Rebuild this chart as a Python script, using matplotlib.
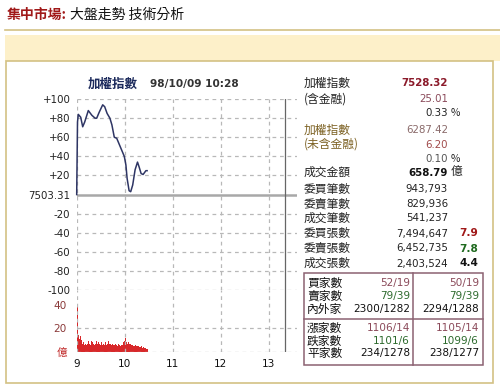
import matplotlib
matplotlib.use("Agg")
import matplotlib.pyplot as plt
from matplotlib.patches import Rectangle
from matplotlib.lines import Line2D

plt.rcParams['font.family'] = ['DejaVu Sans', 'Noto Sans CJK TC']

# ---------------- data ----------------
base_index = 7503.31
price_minutes = [0, 1, 2, 5, 7.5, 10, 14.5, 19, 23, 25, 28, 32.5, 35, 38, 41.5, 44, 47, 50,
                 53, 56, 59.5, 61.5, 63, 65.5, 67.5, 70, 73, 76, 78, 80.5, 83, 86.5, 88]
price_change = [0, 76, 84, 81, 71, 76, 88, 83, 80, 80, 86, 94, 92, 85, 80, 73, 60, 59,
                53, 47, 40, 31, 17, 4, 3, 10, 26, 34, 29, 22, 21, 25, 25.01]
volume = [38, 13, 14, 11, 13, 10, 8, 7, 8, 6, 7, 8, 6, 7, 9, 7, 8, 6, 9, 8, 7, 8, 6, 7, 9,
          7, 6, 8, 7, 6, 8, 7, 6, 7, 6, 8, 7, 6, 7, 9, 7, 6, 7, 6, 7, 6, 5, 6, 7, 6, 5, 6,
          7, 6, 5, 6, 7, 6, 8, 9, 12, 9, 8, 7, 8, 7, 6, 7, 6, 6, 5, 6, 5, 6, 5, 5, 4, 5, 4,
          4, 5, 4, 3, 4, 3, 3, 3, 2, 2]
hour_ticks = [0, 60, 120, 180, 240]
hour_labels = ['9', '10', '11', '12', '13']
price_ticks = [100, 80, 60, 40, 20, 0, -20, -40, -60, -80, -100]
price_tick_labels = ['+100', '+80', '+60', '+40', '+20', '7503.31', '-20', '-40', '-60', '-80', '-100']
vol_ticks = [0, 20, 40]
vol_tick_labels = ['億', '20', '40']
chart_title = '加權指數'
chart_time = '98/10/09 10:28'

idx_labels = ['加權指數', '(含金融)', '', '加權指數', '(未含金融)', '', '成交金額',
              '委買筆數', '委賣筆數', '成交筆數', '委買張數', '委賣張數', '成交張數']
idx_values = ['7528.32', '25.01', '0.33', '6287.42', '6.20', '0.10', '658.79',
              '943,793', '829,936', '541,237', '7,494,647', '6,452,735', '2,403,524']
idx_units = ['', '', '%', '', '', '%', '億', '', '', '', '', '', '']
ratio_values = ['', '', '', '', '', '', '', '', '', '', '7.9', '7.8', '4.4']

box_labels = ['買家數', '賣家數', '內外家', '漲家數', '跌家數', '平家數']
box_col1 = ['52/19', '79/39', '2300/1282', '1106/14', '1101/6', '234/1278']
box_col2 = ['50/19', '79/39', '2294/1288', '1105/14', '1099/6', '238/1277']

# ---------------- figure ----------------
W, H = 500, 386
fig = plt.figure(figsize=(W / 100, H / 100), dpi=100)
fig.patch.set_facecolor('white')


def rect(x0, y0, x1, y1):
    return [x0 / W, 1 - y1 / H, (x1 - x0) / W, (y1 - y0) / H]


# overlay for page decorations & text (pixel coordinates)
ov = fig.add_axes([0, 0, 1, 1])
ov.set_xlim(0, W)
ov.set_ylim(H, 0)
ov.axis('off')
ov.set_zorder(0)

tan = '#d3c184'
ov.add_line(Line2D([5, 500], [29.5, 29.5], color=tan, lw=1.2))
ov.add_patch(Rectangle((5, 35), 495, 26, facecolor='#fdf0c9', edgecolor='none'))
ov.add_patch(Rectangle((6, 61), 487, 322, facecolor='white', edgecolor=tan, lw=1.2))

ov.text(7, 15, '集中市場:', color='#a01818', fontsize=10, fontweight='bold',
        va='center', ha='left', family=['Noto Sans CJK TC'])
ov.text(70, 15, '大盤走勢 技術分析', color='#111111', fontsize=10,
        va='center', ha='left', family=['Noto Sans CJK TC'])

# chart title
ov.text(88, 84, chart_title, color='#1c2a5c', fontsize=9, fontweight='bold',
        va='center', ha='left', family=['Noto Sans CJK TC'])
ov.text(150, 84, chart_time, color='#333333', fontsize=7.6, fontweight='bold',
        va='center', ha='left')

# ---------------- price axes ----------------
x_left, x_right = 76.7, 296.7
xmin, xmax = 0, 275
axp = fig.add_axes(rect(x_left, 99.1, x_right, 290))
axp.set_xlim(xmin, xmax)
axp.set_ylim(-100, 100)
for s in axp.spines.values():
    s.set_visible(False)
axp.patch.set_alpha(0)
grid_kw = dict(color='#b8b8b8', lw=0.9, ls=(0, (3, 3)))
for v in price_ticks:
    if v != 0:
        axp.axhline(v, **grid_kw)
for h in hour_ticks:
    axp.axvline(h, **grid_kw)
axp.axhline(0, color='#a8a8a8', lw=1.8)
axp.axvline(260, color='#666666', lw=0.9)
axp.plot(price_minutes, price_change, color='#2e3564', lw=1.1, clip_on=False)
axp.set_yticks(price_ticks)
axp.set_yticklabels(price_tick_labels)
axp.set_xticks([])
axp.tick_params(axis='y', length=0, pad=4.5, labelsize=7.4, labelcolor='#222222')

# ---------------- volume axes ----------------
vpx = 1.17  # pixels per unit
v_bottom = 351.7
axv = fig.add_axes(rect(x_left, 290, x_right, v_bottom))
axv.set_xlim(xmin, xmax)
axv.set_ylim(0, (v_bottom - 290) / vpx)
for s in axv.spines.values():
    s.set_visible(False)
axv.patch.set_alpha(0)
for h in hour_ticks:
    axv.axvline(h, **grid_kw)
axv.axhline(20, **grid_kw)
axv.axhline(0, **grid_kw)
axv.axvline(260, color='#666666', lw=0.9)
axv.bar(range(len(volume)), volume, width=1.0, align='edge', color='#d8282a',
        edgecolor='none')
axv.set_yticks(vol_ticks)
axv.set_yticklabels(vol_tick_labels)
for lab, c in zip(axv.get_yticklabels(), ['#c02828', '#8b3a3a', '#8b3a3a']):
    lab.set_color(c)
axv.tick_params(axis='y', length=0, pad=7, labelsize=7.6)
axv.set_xticks(hour_ticks)
axv.set_xticklabels(hour_labels)
axv.tick_params(axis='x', length=0, pad=5, labelsize=7.6, labelcolor='#111111')

# ---------------- right panel ----------------
row_y = [83, 99, 113.5, 130, 144.5, 158.5, 172.5, 189, 204, 218.5, 233.5, 248.5, 263.5]
label_colors = ['#222222', '#222222', '#222222', '#7d6224', '#7d6224', '#222222', '#222222',
                '#222222', '#222222', '#222222', '#222222', '#222222', '#222222']
value_colors = ['#8b1a2a', '#8b4a5a', '#222222', '#8a6a6a', '#a04a4a', '#555555', '#111111',
                '#222222', '#222222', '#222222', '#222222', '#222222', '#222222']
value_bold = [True, False, False, False, False, False, True,
              False, False, False, False, False, False]
ratio_colors = ['#a01818', '#1f6a1f', '#111111']
cjk = ['Noto Sans CJK TC', 'DejaVu Sans']
for i, y in enumerate(row_y):
    if idx_labels[i]:
        ov.text(304, y, idx_labels[i], color=label_colors[i], fontsize=8.5,
                va='center', ha='left', family=cjk)
    ov.text(448, y, idx_values[i], color=value_colors[i], fontsize=7.4,
            fontweight='bold' if value_bold[i] else 'normal', va='center', ha='right')
    if idx_units[i]:
        ov.text(451, y, idx_units[i], color='#222222', fontsize=7.4 if idx_units[i] == '%' else 8.5,
                va='center', ha='left', family=cjk)
    if ratio_values[i]:
        ov.text(459, y, ratio_values[i], color=ratio_colors[i - 10], fontsize=7.6,
                fontweight='bold', va='center', ha='left')

# table box
box_c = '#8b6272'
ov.add_patch(Rectangle((304, 272.7), 179.3, 92.3, facecolor='none', edgecolor=box_c, lw=1.1))
ov.add_line(Line2D([413.3, 413.3], [272.7, 365], color=box_c, lw=1.1))
ov.add_line(Line2D([304, 483.3], [319, 319], color=box_c, lw=1.1))
box_y = [283.3, 296, 309.3, 328.3, 341, 353.3]
box_colors = ['#8b4a5a', '#2d6a2d', '#111111', '#8b4a5a', '#2d6a2d', '#111111']
for i, y in enumerate(box_y):
    ov.text(307, y, box_labels[i], color='#111111', fontsize=8.5, va='center',
            ha='left', family=cjk)
    ov.text(410, y, box_col1[i], color=box_colors[i], fontsize=7.6, va='center', ha='right')
    ov.text(479, y, box_col2[i], color=box_colors[i], fontsize=7.6, va='center', ha='right')

fig.savefig('out.png', dpi=100)
